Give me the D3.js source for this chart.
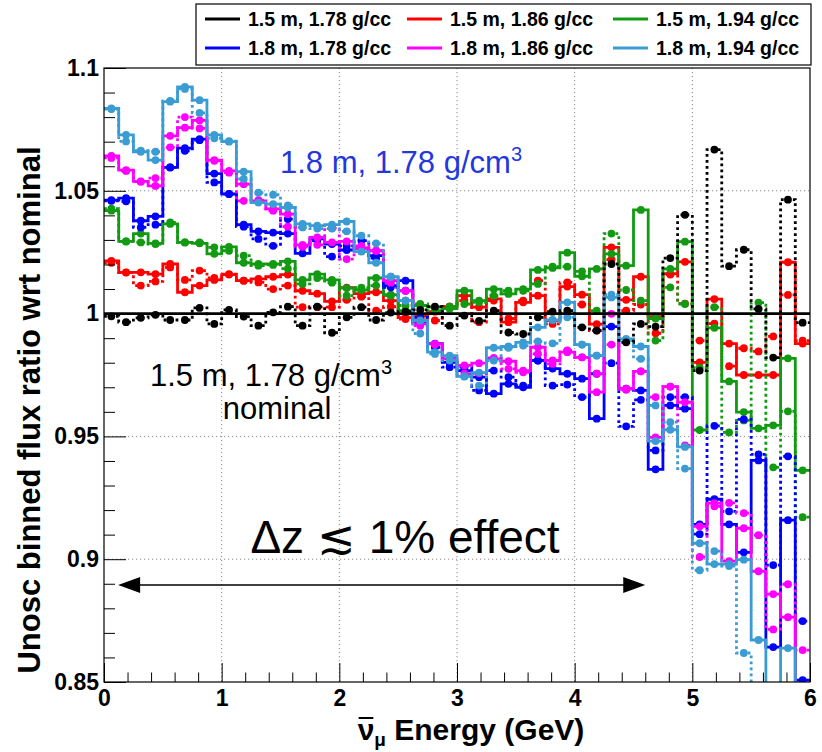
<!DOCTYPE html>
<html>
<head>
<meta charset="utf-8">
<script src="https://cdn.jsdelivr.net/npm/d3@7"></script>
<style>
  body { margin: 0; background: #fff; }
  text { font-family: "Liberation Sans", Arial, sans-serif; }
</style>
</head>
<body>
<svg id="svg"></svg>
<script>
// binning: 48 bins of 0.125 GeV from 0 to 6
const binWidth = 0.125;
const nBins = 48;

const xTicks = [0, 1, 2, 3, 4, 5, 6];
const yTicks = [0.85, 0.9, 0.95, 1, 1.05, 1.1];

const legendLabels = ["1.5 m, 1.78 g/cc", "1.5 m, 1.86 g/cc", "1.5 m, 1.94 g/cc",
                      "1.8 m, 1.78 g/cc", "1.8 m, 1.86 g/cc", "1.8 m, 1.94 g/cc"];

// ratio to nominal, solid = first variant, dotted = second variant
const nominal = [1,1,1,1,1,1,1,1,1,1,1,1,1,1,1,1,1,1,1,1,1,1,1,1,1,1,1,1,1,1,1,1,1,1,1,1,1,1,1,1,1,1,1,1,1,1,1,1];
const blackDotted = [0.9989, 0.9965, 0.9983, 0.9995, 0.9974, 0.9974, 1.0023, 0.9958, 1.0015, 0.9988, 0.9951, 1.0005,
  1.0028, 0.9951, 1.0028, 0.9922, 0.9985, 1.0026, 0.9974, 1.0004, 1.0008, 1.0015, 1.0028, 0.9951,
  0.9992, 0.9970, 1.0012, 0.9923, 0.9917, 0.9985, 1.0008, 1.0012, 0.9944, 0.9931, 1.0202, 0.9883,
  0.9958, 0.9947, 1.0226, 1.0402, 0.9768, 1.0668, 1.0193, 1.0260, 1.0019, 0.9821, 1.0464, 0.9963];

const redSolid = [1.0215, 1.0168, 1.0168, 1.0161, 1.0202, 1.0087, 1.0114, 1.0137, 1.0159, 1.0134, 1.0141, 1.0150,
  1.0159, 1.0093, 1.0081, 1.0050, 1.0106, 1.0081, 1.0087, 1.0053, 0.9984, 0.9992, 1.0008, 1.0028,
  1.0073, 1.0026, 1.0060, 0.9965, 1.0046, 1.0073, 0.9972, 1.0110, 1.0077, 0.9957, 1.0270, 1.0056,
  1.0150, 0.9988, 1.0163, 1.0211, 0.9801, 1.0059, 0.9878, 0.9750, 0.9750, 0.9750, 1.0209, 0.9878];
const redDotted = [1.0207, 1.0167, 1.0114, 1.0131, 1.0188, 1.0137, 1.0175, 1.0145, 1.0161, 1.0134, 1.0127, 1.0100,
  1.0114, 1.0026, 1.0026, 1.0026, 1.0056, 1.0069, 1.0012, 1.0028, 0.9978, 0.9983, 0.9972, 1.0028,
  1.0053, 0.9965, 1.0053, 0.9980, 1.0053, 1.0134, 0.9958, 1.0127, 1.0037, 0.9931, 1.0220, 1.0012,
  1.0037, 0.9920, 1.0159, 1.0041, 0.9890, 0.9959, 0.9786, 0.9859, 0.9846, 0.9907, 1.0076, 0.9890];

const greenSolid = [1.0419, 1.0294, 1.0326, 1.0286, 1.0365, 1.0290, 1.0286, 1.0243, 1.0272, 1.0207, 1.0202, 1.0202,
  1.0213, 1.0137, 1.0161, 1.0137, 1.0104, 1.0096, 1.0145, 1.0077, 1.0012, 1.0033, 1.0026, 1.0020,
  1.0093, 1.0053, 1.0100, 1.0080, 1.0100, 1.0178, 1.0186, 1.0248, 1.0152, 1.0182, 1.0243, 1.0195,
  1.0422, 0.9980, 1.0182, 1.0293, 0.9526, 0.9942, 0.9724, 0.9599, 0.9533, 0.9545, 0.9818, 0.9362];
const greenDotted = [1.0427, 1.0294, 1.0290, 1.0283, 1.0371, 1.0290, 1.0290, 1.0270, 1.0256, 1.0236, 1.0195, 1.0198,
  1.0183, 1.0121, 1.0145, 1.0126, 1.0073, 1.0106, 1.0114, 1.0073, 1.0033, 1.0039, 1.0012, 1.0028,
  1.0039, 1.0046, 1.0073, 1.0093, 1.0093, 1.0121, 1.0191, 1.0191, 1.0172, 1.0012, 1.0326, 1.0096,
  1.0053, 0.9890, 1.0107, 1.0039, 0.9780, 1.0026, 0.9516, 0.9565, 1.0045, 0.9374, 0.9602, 0.9171];

const blueSolid = [1.0462, 1.0470, 1.0378, 1.0396, 1.0595, 1.0674, 1.0710, 1.0570, 1.0487, 1.0362, 1.0335, 1.0330,
  1.0326, 1.0245, 1.0304, 1.0283, 1.0259, 1.0267, 1.0236, 1.0114, 1.0134, 0.9963, 0.9878, 0.9801,
  0.9768, 0.9741, 0.9674, 0.9714, 0.9700, 0.9809, 0.9776, 0.9755, 0.9735, 0.9572, 0.9947, 0.9694,
  0.9687, 0.9366, 0.9626, 0.9613, 0.9142, 0.9244, 0.9142, 0.9028, 0.9402, 0.8642, 0.9159, 0.8508];
const blueDotted = [1.0459, 1.0457, 1.0351, 1.0362, 1.0595, 1.0663, 1.0706, 1.0534, 1.0487, 1.0354, 1.0304, 1.0276,
  1.0385, 1.0276, 1.0297, 1.0232, 1.0276, 1.0297, 1.0226, 1.0107, 1.0093, 0.9985, 0.9863, 0.9782,
  0.9782, 0.9687, 0.9768, 0.9741, 0.9707, 0.9809, 0.9707, 0.9711, 0.9660, 0.9755, 0.9798, 0.9541,
  0.9649, 0.9443, 0.9660, 0.9660, 0.9102, 0.9543, 0.9195, 0.9569, 0.9427, 0.8976, 0.9419, 0.8748];

const magentaSolid = [1.0642, 1.0584, 1.0538, 1.0520, 1.0724, 1.0757, 1.0787, 1.0625, 1.0581, 1.0527, 1.0459, 1.0426,
  1.0405, 1.0280, 1.0310, 1.0290, 1.0294, 1.0267, 1.0256, 1.0134, 1.0093, 0.9958, 0.9877, 0.9816,
  0.9789, 0.9798, 0.9816, 0.9806, 0.9768, 0.9863, 0.9809, 0.9843, 0.9822, 0.9680, 0.9999, 0.9694,
  0.9765, 0.9496, 0.9703, 0.9639, 0.9134, 0.9228, 0.8992, 0.9126, 0.8951, 0.8858, 0.8764, 0.8467];
const magentaDotted = [1.0634, 1.0581, 1.0537, 1.0552, 1.0677, 1.0800, 1.0754, 1.0622, 1.0574, 1.0459, 1.0462, 1.0419,
  1.0354, 1.0272, 1.0280, 1.0348, 1.0222, 1.0276, 1.0256, 1.0126, 1.0053, 0.9951, 0.9874, 0.9821,
  0.9755, 0.9757, 0.9820, 0.9775, 0.9761, 0.9836, 0.9795, 0.9850, 0.9822, 0.9755, 0.9874, 0.9690,
  0.9765, 0.9660, 0.9703, 0.9463, 0.9009, 0.9215, 0.9229, 0.9188, 0.9098, 0.8714, 0.8898, 0.8630];

const cyanSolid = [1.0835, 1.0728, 1.0659, 1.0625, 1.0863, 1.0923, 1.0869, 1.0728, 1.0700, 1.0578, 1.0452, 1.0446,
  1.0432, 1.0365, 1.0358, 1.0362, 1.0375, 1.0252, 1.0207, 1.0150, 1.0053, 0.9972, 0.9843, 0.9829,
  0.9744, 0.9760, 0.9861, 0.9866, 0.9883, 0.9944, 0.9974, 1.0046, 0.9874, 0.9829, 1.0066, 0.9897,
  0.9866, 0.9481, 0.9527, 0.9457, 0.9065, 0.8980, 0.8980, 0.8998, 0.8671, 0.8467, 0.8638, 0.8427];
const cyanDotted = [1.0833, 1.0701, 1.0663, 1.0659, 1.0866, 1.0915, 1.0817, 1.0714, 1.0702, 1.0548, 1.0492, 1.0484,
  1.0441, 1.0351, 1.0346, 1.0346, 1.0335, 1.0317, 1.0286, 1.0150, 1.0053, 0.9919, 0.9836, 0.9809,
  0.9744, 0.9707, 0.9809, 0.9861, 0.9870, 0.9887, 0.9879, 0.9985, 0.9874, 0.9829, 1.0077, 0.9890,
  0.9816, 0.9626, 0.9558, 0.9369, 0.8955, 0.9033, 0.8972, 0.8618, 0.8400, 0.8400, 0.8400, 0.8400];

const colors = {black: "#000000", red: "#ff0000", green: "#129b12", blue: "#0000ff", magenta: "#ff00ff", cyan: "#3a9cd3"};

const series = [
  {vals: redSolid, color: colors.red, dotted: false},
  {vals: redDotted, color: colors.red, dotted: true},
  {vals: greenSolid, color: colors.green, dotted: false},
  {vals: greenDotted, color: colors.green, dotted: true},
  {vals: blueSolid, color: colors.blue, dotted: false},
  {vals: blueDotted, color: colors.blue, dotted: true},
  {vals: magentaSolid, color: colors.magenta, dotted: false},
  {vals: magentaDotted, color: colors.magenta, dotted: true},
  {vals: cyanSolid, color: colors.cyan, dotted: false},
  {vals: cyanDotted, color: colors.cyan, dotted: true},
  {vals: blackDotted, color: colors.black, dotted: true}
];

const legendColors = [colors.black, colors.red, colors.green, colors.blue, colors.magenta, colors.cyan];

let layout = {"width": 822, "height": 752,
              "left": 104, "right": 810, "top": 68, "bottom": 682};

let svg = d3.select("#svg")
  .attr("width", layout.width)
  .attr("height", layout.height);

let xScale = d3.scaleLinear().domain([0, 6]).range([layout.left, layout.right]);
let yScale = d3.scaleLinear().domain([0.85, 1.1]).range([layout.bottom, layout.top]);

svg.append("defs").append("clipPath").attr("id", "clip")
  .append("rect")
  .attr("x", layout.left).attr("y", layout.top)
  .attr("width", layout.right - layout.left)
  .attr("height", layout.bottom - layout.top);

// grid
let grid = svg.append("g").attr("stroke", "#8a8a8a").attr("stroke-width", 1).attr("stroke-dasharray", "1.2,2.8");
grid.selectAll(".gx").data(xTicks.slice(1, -1)).join("line")
  .attr("x1", d => xScale(d)).attr("x2", d => xScale(d))
  .attr("y1", layout.top).attr("y2", layout.bottom);
grid.selectAll(".gy").data(yTicks.slice(1, -1)).join("line")
  .attr("y1", d => yScale(d)).attr("y2", d => yScale(d))
  .attr("x1", layout.left).attr("x2", layout.right);

// histograms
const edges = d3.range(nBins + 1).map(i => i * binWidth);
const centers = d3.range(nBins).map(i => (i + 0.5) * binWidth);

let stepLine = d3.line()
  .x(d => xScale(d[0]))
  .y(d => yScale(d[1]))
  .curve(d3.curveStepAfter);

let plot = svg.append("g").attr("clip-path", "url(#clip)");

series.forEach(s => {
  let pts = s.vals.map((v, i) => [edges[i], v]);
  pts.push([edges[nBins], s.vals[nBins - 1]]);
  plot.append("path")
    .attr("d", stepLine(pts))
    .attr("fill", "none")
    .attr("stroke", s.color)
    .attr("stroke-width", 2.8)
    .attr("stroke-dasharray", s.dotted ? "2.8,3.2" : null);
  plot.append("g").selectAll("circle")
    .data(s.vals)
    .join("circle")
    .attr("cx", (d, i) => xScale(centers[i]))
    .attr("cy", d => yScale(d))
    .attr("r", 3.9)
    .attr("fill", s.color);
});

// nominal
let nomPts = nominal.map((v, i) => [edges[i], v]);
nomPts.push([edges[nBins], nominal[nBins - 1]]);
plot.append("path")
  .attr("d", stepLine(nomPts))
  .attr("fill", "none")
  .attr("stroke", colors.black)
  .attr("stroke-width", 2.8);

// axes
const xMinor = d3.range(0, 30.5).map(i => i * 0.2).filter(v => Math.abs(v - Math.round(v)) > 1e-6);
const yMinor = d3.range(0, 25.5).map(i => 0.85 + i * 0.01).filter(v => !yTicks.some(t => Math.abs(t - v) < 1e-6));

svg.append("g")
  .attr("transform", `translate(0,${layout.bottom})`)
  .call(d3.axisBottom(xScale).tickValues(xMinor).tickSize(-9.5).tickFormat(""))
  .call(g => g.select(".domain").remove());

svg.append("g")
  .attr("transform", `translate(0,${layout.bottom})`)
  .call(d3.axisBottom(xScale).tickValues(xTicks).tickSize(-19).tickPadding(8).tickFormat(d3.format("d")))
  .call(g => g.select(".domain").remove())
  .call(g => g.selectAll("text").attr("font-size", 23).attr("font-weight", "bold").attr("fill", "#000"));

svg.append("g")
  .attr("transform", `translate(${layout.left},0)`)
  .call(d3.axisLeft(yScale).tickValues(yMinor).tickSize(-11).tickFormat(""))
  .call(g => g.select(".domain").remove());

svg.append("g")
  .attr("transform", `translate(${layout.left},0)`)
  .call(d3.axisLeft(yScale).tickValues(yTicks).tickSize(-22).tickPadding(5).tickFormat(d => String(+d.toFixed(2))))
  .call(g => g.select(".domain").remove())
  .call(g => g.selectAll("text").attr("font-size", 23).attr("font-weight", "bold").attr("fill", "#000"));

svg.selectAll(".tick line").attr("stroke", "#000");

// frame
svg.append("rect")
  .attr("x", layout.left).attr("y", layout.top)
  .attr("width", layout.right - layout.left)
  .attr("height", layout.bottom - layout.top)
  .attr("fill", "none").attr("stroke", "#000").attr("stroke-width", 1.2);

// axis titles
let xTitle = svg.append("text")
  .attr("x", 471).attr("y", 740)
  .attr("text-anchor", "middle")
  .attr("font-size", 30).attr("font-weight", "bold");
xTitle.append("tspan").text("\u03BD");
xTitle.append("tspan").attr("font-size", 19).attr("dy", 6).text("\u03BC");
xTitle.append("tspan").attr("dy", -6).text(" Energy (GeV)");
// bar over the nu
let nuBox = xTitle.node().getExtentOfChar(0);
svg.append("line")
  .attr("x1", nuBox.x + 1).attr("x2", nuBox.x + nuBox.width - 1)
  .attr("y1", 718).attr("y2", 718)
  .attr("stroke", "#000").attr("stroke-width", 2);

svg.append("text")
  .attr("transform", "translate(40,410) rotate(-90)")
  .attr("text-anchor", "middle")
  .attr("font-size", 31).attr("font-weight", "bold")
  .text("Unosc binned flux ratio wrt nominal");

// annotations
let ann1 = svg.append("text").attr("x", 280).attr("y", 173)
  .attr("font-size", 31).attr("fill", "#2437dc");
ann1.append("tspan").text("1.8 m, 1.78 g/cm");
ann1.append("tspan").attr("font-size", 20).attr("dy", -12).text("3");

let ann2 = svg.append("text").attr("x", 150).attr("y", 386)
  .attr("font-size", 31).attr("fill", "#000");
ann2.append("tspan").text("1.5 m, 1.78 g/cm");
ann2.append("tspan").attr("font-size", 20).attr("dy", -12).text("3");

svg.append("text").attr("x", 277).attr("y", 419)
  .attr("text-anchor", "middle")
  .attr("font-size", 31).text("nominal");

svg.append("text").attr("x", 405).attr("y", 553)
  .attr("text-anchor", "middle")
  .attr("font-size", 46).text("\u0394z \u2272 1% effect");

// double arrow
const arrowSpan = [0.12, 4.6];
let ay = 585;
svg.append("line")
  .attr("x1", xScale(arrowSpan[0]) + 10).attr("x2", xScale(arrowSpan[1]) - 10)
  .attr("y1", ay).attr("y2", ay)
  .attr("stroke", "#000").attr("stroke-width", 1.6);
let xa = xScale(arrowSpan[0]), xb = xScale(arrowSpan[1]);
svg.append("path")
  .attr("d", `M${xa},${ay} L${xa + 22},${ay - 8} L${xa + 22},${ay + 8} Z`)
  .attr("fill", "#000");
svg.append("path")
  .attr("d", `M${xb},${ay} L${xb - 22},${ay - 8} L${xb - 22},${ay + 8} Z`)
  .attr("fill", "#000");

// legend
let legend = svg.append("g");
legend.append("rect")
  .attr("x", 196).attr("y", 4).attr("width", 615).attr("height", 61)
  .attr("fill", "#fff").attr("stroke", "#000").attr("stroke-width", 1.2);
const colX = [205, 407, 613];
const rowY = [19, 48];
legendLabels.forEach((lab, i) => {
  let cx = colX[i % 3], cy = rowY[Math.floor(i / 3)];
  legend.append("line")
    .attr("x1", cx).attr("x2", cx + 35).attr("y1", cy).attr("y2", cy)
    .attr("stroke", legendColors[i]).attr("stroke-width", 2.8);
  legend.append("text")
    .attr("x", cx + 43).attr("y", cy + 7)
    .attr("font-size", 19.5).attr("font-weight", "bold")
    .text(lab);
});
</script>
</body>
</html>
